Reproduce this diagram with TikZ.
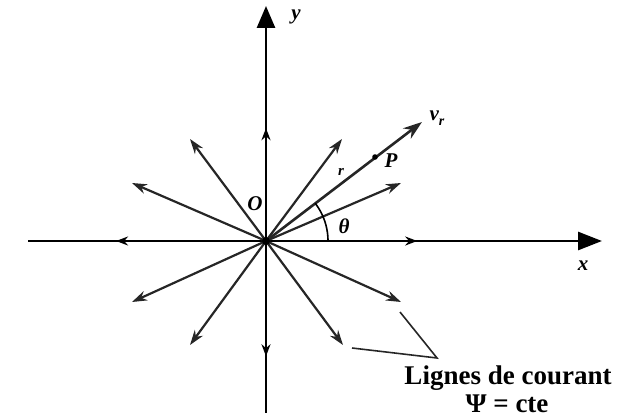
\documentclass[tikz,border=0pt]{standalone}
\usepackage{fontspec}
\setmainfont{Liberation Serif}
\usetikzlibrary{arrows.meta,decorations.markings}
\tikzset{
  axisline/.style={line width=2.8pt,black},
  rayline/.style={line width=2.2pt,black!85,-{Stealth[length=15pt,width=10pt]}},
  midmark/.style={postaction={decorate},decoration={markings,mark=at position #1 with {\arrow{Stealth[length=12pt,width=9pt]}}}},
  lbl/.style={font=\fontsize{21}{23}\selectfont\bfseries\itshape},
  legend/.style={font=\fontsize{27}{30}\selectfont\bfseries},
  leader/.style={line width=1.6pt,black!85}
}
\begin{document}
\begin{tikzpicture}[x=1pt,y=-1pt]
\useasboundingbox (0,0) rectangle (619,420);
\coordinate (O) at (266,241);
\coordinate (ytop) at (266,6);
\coordinate (ybot) at (266,413);
\coordinate (xright) at (602,241);
\coordinate (xleft) at (28,241);
% axes
\draw[axisline,midmark=0.48,-{Triangle[length=22pt,width=18pt]}] (O) -- (ytop);
\draw[axisline,midmark=0.67] (O) -- (ybot);
\draw[axisline,midmark=0.45,-{Triangle[length=24pt,width=18pt]}] (O) -- (xright);
\draw[axisline,midmark=0.63] (O) -- (xleft);
% rays
\coordinate (t1) at (342,139);
\coordinate (vr) at (422,122);
\coordinate (t3) at (401,183);
\coordinate (t4) at (190,139);
\coordinate (t5) at (132,183);
\coordinate (t6) at (132,302);
\coordinate (t7) at (190,345);
\coordinate (t8) at (401,302);
\coordinate (t9) at (343,345);
\foreach \t in {t1,t3,t4,t5,t6,t7,t8,t9}
  \draw[rayline] (O) -- (\t);
\draw[rayline,line width=2.6pt,-{Stealth[length=19pt,width=13pt]}] (O) -- (vr);
\fill (O) circle (4pt);
% angle arc
\draw[line width=1.6pt] plot[domain=0:37.5,samples=30,smooth] ({266+62*cos(\x)},{241-62*sin(\x)});
% point P
\coordinate (P) at (375,157);
\fill (P) circle (2.8pt);
% labels
\node[lbl] (ylab) at (296,17) {y};
\node[lbl] (xlab) at (583,266) {x};
\node[lbl] (olab) at (255,204) {O};
\node[lbl] (thlab) at (344,226) {θ};
\node[lbl,font=\fontsize{15}{17}\selectfont\bfseries\itshape] (rlab) at (341,172) {r};
\node[lbl] (plab) at (391,161) {P};
\node[lbl,anchor=west] (vlab) at (426,118) {v\raisebox{-5pt}{\fontsize{14}{16}\selectfont r}};
% legend
\node[legend] (leg1) at (508,378) {Lignes de courant};
\node[legend] (leg2) at (507,404) {Ψ = cte};
\coordinate (apex) at (437,358);
\coordinate (l1) at (400,312);
\coordinate (l2) at (352,348);
\draw[leader] (l1) -- (apex) -- (l2);
\end{tikzpicture}
\end{document}
